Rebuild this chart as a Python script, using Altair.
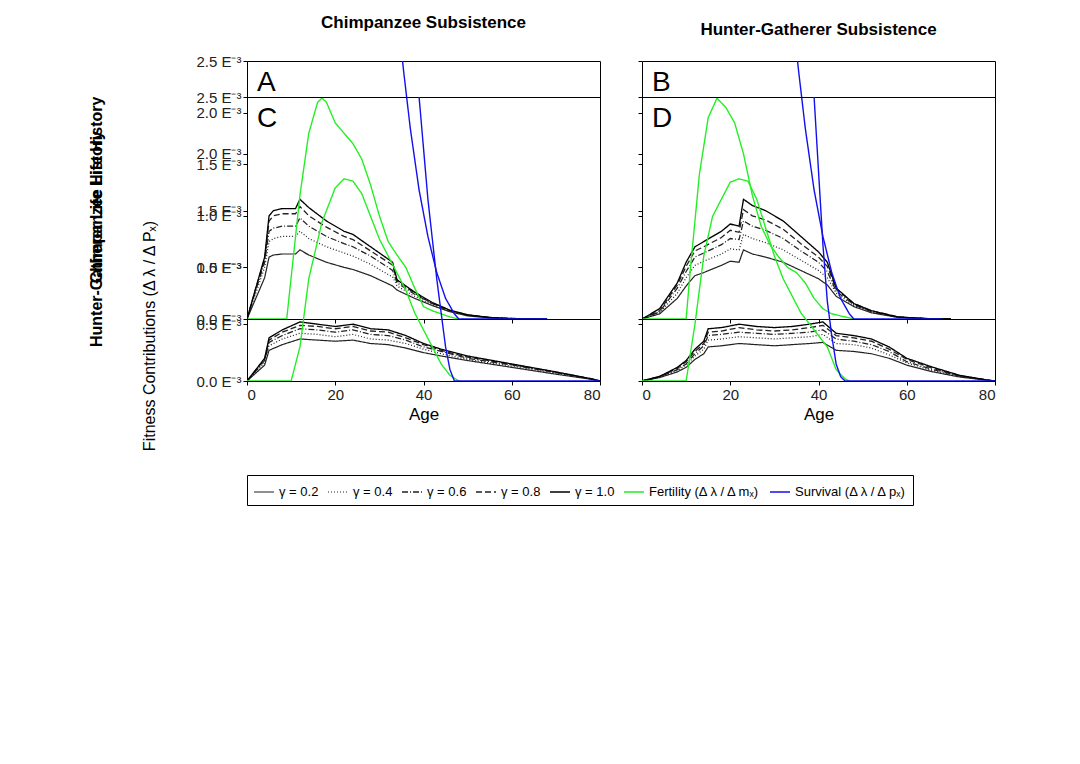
import altair as alt
import pandas as pd

series_names = ["γ = 0.2", "γ = 0.4", "γ = 0.6", "γ = 0.8", "γ = 1.0",
                "Fertility (Δ λ / Δ mₓ)", "Survival (Δ λ / Δ pₓ)"]
series_colors = ["#222222", "#222222", "#222222", "#222222", "#000000", "#22ee22", "#1111ee"]
series_dash = [[1, 0], [1, 2], [6, 2, 1, 2], [6, 3], [1, 0], [1, 0], [1, 0]]
series_width = [1.2, 1.4, 1.4, 1.4, 3, 3, 3]

# Panel A: chimpanzee life history, chimpanzee subsistence
a_age = [0, 2, 4, 5, 6, 8, 10, 11, 12, 14, 18, 22, 24, 28, 32, 33, 34, 38, 42, 46, 50, 55, 60, 68]
a_g02 = [0, 0.2, 0.4, 0.6, 0.62, 0.63, 0.63, 0.63, 0.67, 0.62, 0.55, 0.5, 0.48, 0.42, 0.34, 0.32, 0.28, 0.2, 0.13, 0.07, 0.03, 0.01, 0.003, 0]
a_g04 = [0, 0.25, 0.5, 0.75, 0.78, 0.8, 0.8, 0.8, 0.85, 0.78, 0.7, 0.64, 0.61, 0.53, 0.43, 0.41, 0.32, 0.22, 0.14, 0.075, 0.035, 0.012, 0.004, 0]
a_g06 = [0, 0.28, 0.55, 0.85, 0.88, 0.9, 0.9, 0.9, 0.98, 0.9, 0.8, 0.73, 0.7, 0.61, 0.5, 0.47, 0.35, 0.24, 0.15, 0.08, 0.038, 0.013, 0.004, 0]
a_g08 = [0, 0.3, 0.58, 0.95, 1.0, 1.02, 1.02, 1.02, 1.09, 1.0, 0.89, 0.8, 0.77, 0.66, 0.55, 0.52, 0.37, 0.25, 0.15, 0.08, 0.04, 0.014, 0.005, 0]
a_g10 = [0, 0.3, 0.6, 1.0, 1.05, 1.07, 1.07, 1.07, 1.16, 1.08, 0.95, 0.85, 0.82, 0.7, 0.58, 0.55, 0.38, 0.26, 0.16, 0.085, 0.04, 0.015, 0.005, 0]
a_fert_age = [0, 9, 10, 12, 14, 16, 17, 18, 20, 22, 24, 26, 28, 30, 32, 34, 36, 38, 40, 42, 44, 46, 48]
a_fert = [0, 0, 0.4, 1.2, 1.8, 2.1, 2.14, 2.1, 1.9, 1.8, 1.7, 1.55, 1.3, 1.0, 0.75, 0.62, 0.5, 0.3, 0.12, 0.08, 0.05, 0.02, 0]
a_surv_age = [34, 35.5, 37, 39, 41, 43, 45, 47, 48, 68]
a_surv = [3.0, 2.4, 1.85, 1.25, 0.8, 0.45, 0.2, 0.05, 0, 0]

# Panel B: chimpanzee life history, hunter-gatherer subsistence
b_age = [0, 4, 8, 10, 12, 14, 18, 20, 22, 23, 25, 28, 32, 36, 40, 42, 44, 48, 52, 58, 64, 70]
b_g02 = [0, 0.05, 0.2, 0.32, 0.42, 0.45, 0.52, 0.56, 0.55, 0.67, 0.63, 0.6, 0.55, 0.47, 0.39, 0.33, 0.22, 0.12, 0.06, 0.015, 0.004, 0]
b_g04 = [0, 0.06, 0.25, 0.4, 0.52, 0.56, 0.63, 0.68, 0.67, 0.82, 0.78, 0.74, 0.67, 0.57, 0.47, 0.4, 0.25, 0.13, 0.07, 0.017, 0.004, 0]
b_g06 = [0, 0.07, 0.3, 0.46, 0.6, 0.64, 0.72, 0.78, 0.77, 0.95, 0.9, 0.86, 0.78, 0.66, 0.55, 0.46, 0.27, 0.14, 0.07, 0.018, 0.005, 0]
b_g08 = [0, 0.08, 0.33, 0.51, 0.66, 0.7, 0.79, 0.86, 0.84, 1.06, 1.0, 0.96, 0.87, 0.73, 0.6, 0.51, 0.29, 0.15, 0.08, 0.02, 0.005, 0]
b_g10 = [0, 0.1, 0.35, 0.55, 0.7, 0.75, 0.85, 0.92, 0.9, 1.16, 1.1, 1.05, 0.95, 0.8, 0.65, 0.55, 0.3, 0.15, 0.08, 0.02, 0.005, 0]
b_fert_age = [0, 10, 11, 13, 15, 17, 19, 21, 23, 25, 27, 29, 31, 33, 35, 37, 39, 41, 43, 46, 48]
b_fert = [0, 0, 0.5, 1.4, 1.95, 2.14, 2.05, 1.9, 1.6, 1.2, 0.9, 0.72, 0.6, 0.5, 0.45, 0.35, 0.2, 0.1, 0.05, 0.02, 0]
b_surv_age = [34, 35.5, 37, 39, 41, 43, 45, 47, 48, 68]
b_surv = [3.0, 2.4, 1.85, 1.25, 0.8, 0.45, 0.2, 0.05, 0, 0]

# Panel C: hunter-gatherer life history, chimpanzee subsistence
c_age = [0, 2, 4, 5, 8, 12, 16, 20, 24, 28, 32, 36, 40, 44, 50, 60, 70, 78, 80]
c_g02 = [0, 0.07, 0.14, 0.27, 0.32, 0.37, 0.36, 0.35, 0.36, 0.33, 0.32, 0.29, 0.25, 0.22, 0.18, 0.12, 0.06, 0.015, 0]
c_g04 = [0, 0.08, 0.16, 0.31, 0.37, 0.42, 0.41, 0.39, 0.41, 0.37, 0.36, 0.33, 0.28, 0.24, 0.19, 0.13, 0.07, 0.017, 0]
c_g06 = [0, 0.09, 0.18, 0.34, 0.4, 0.46, 0.45, 0.43, 0.45, 0.41, 0.4, 0.36, 0.3, 0.26, 0.2, 0.14, 0.075, 0.018, 0]
c_g08 = [0, 0.095, 0.19, 0.36, 0.43, 0.49, 0.48, 0.46, 0.48, 0.44, 0.43, 0.38, 0.32, 0.27, 0.21, 0.145, 0.078, 0.019, 0]
c_g10 = [0, 0.1, 0.2, 0.38, 0.45, 0.52, 0.5, 0.48, 0.5, 0.46, 0.45, 0.4, 0.33, 0.28, 0.22, 0.15, 0.08, 0.02, 0]
c_fert_age = [0, 10, 12, 14, 17, 20, 22, 24, 26, 28, 30, 32, 34, 36, 38, 40, 42, 44, 46, 48]
c_fert = [0, 0, 0.3, 0.9, 1.4, 1.7, 1.78, 1.76, 1.65, 1.45, 1.25, 1.1, 0.95, 0.8, 0.6, 0.45, 0.3, 0.15, 0.05, 0]
c_surv_age = [38, 39, 41, 43, 44, 45, 46, 47, 80]
c_surv = [3.2, 2.5, 1.6, 0.9, 0.6, 0.3, 0.1, 0, 0]

# Panel D: hunter-gatherer life history, hunter-gatherer subsistence
d_age = [0, 4, 8, 10, 12, 14, 15, 18, 22, 26, 30, 34, 38, 41, 44, 48, 52, 56, 60, 66, 72, 78, 80]
d_g02 = [0, 0.03, 0.08, 0.12, 0.19, 0.24, 0.3, 0.31, 0.33, 0.32, 0.31, 0.32, 0.33, 0.34, 0.27, 0.26, 0.24, 0.2, 0.14, 0.08, 0.035, 0.008, 0]
d_g04 = [0, 0.035, 0.09, 0.14, 0.22, 0.28, 0.36, 0.37, 0.39, 0.38, 0.37, 0.38, 0.39, 0.41, 0.33, 0.32, 0.29, 0.23, 0.16, 0.09, 0.04, 0.009, 0]
d_g06 = [0, 0.037, 0.1, 0.15, 0.24, 0.31, 0.4, 0.41, 0.43, 0.42, 0.41, 0.42, 0.43, 0.45, 0.37, 0.35, 0.32, 0.26, 0.17, 0.1, 0.043, 0.009, 0]
d_g08 = [0, 0.04, 0.11, 0.17, 0.26, 0.33, 0.43, 0.44, 0.47, 0.45, 0.44, 0.45, 0.47, 0.49, 0.4, 0.38, 0.35, 0.28, 0.19, 0.11, 0.047, 0.01, 0]
d_g10 = [0, 0.04, 0.12, 0.18, 0.28, 0.35, 0.46, 0.47, 0.5, 0.48, 0.47, 0.48, 0.5, 0.52, 0.42, 0.4, 0.37, 0.3, 0.2, 0.12, 0.05, 0.01, 0]
d_fert_age = [0, 10, 12, 14, 16, 20, 22, 24, 26, 28, 30, 32, 34, 36, 38, 40, 42, 44, 46, 47]
d_fert = [0, 0, 0.5, 1.1, 1.45, 1.75, 1.78, 1.76, 1.6, 1.35, 1.1, 0.9, 0.75, 0.6, 0.5, 0.4, 0.3, 0.1, 0.02, 0]
d_surv_age = [38, 39, 41, 42, 43, 44, 45, 46, 80]
d_surv = [3.5, 2.5, 1.2, 0.7, 0.4, 0.15, 0.04, 0, 0]

panels = {
    "A": (a_age, [a_g02, a_g04, a_g06, a_g08, a_g10], a_fert_age, a_fert, a_surv_age, a_surv),
    "B": (b_age, [b_g02, b_g04, b_g06, b_g08, b_g10], b_fert_age, b_fert, b_surv_age, b_surv),
    "C": (c_age, [c_g02, c_g04, c_g06, c_g08, c_g10], c_fert_age, c_fert, c_surv_age, c_surv),
    "D": (d_age, [d_g02, d_g04, d_g06, d_g08, d_g10], d_fert_age, d_fert, d_surv_age, d_surv),
}

rows = []
for key, (age, gammas, f_age, fert, s_age, surv) in panels.items():
    for name, vals in zip(series_names[:5], gammas):
        rows += [dict(panel=key, series=name, age=x, value=v) for x, v in zip(age, vals)]
    rows += [dict(panel=key, series=series_names[5], age=x, value=v) for x, v in zip(f_age, fert)]
    rows += [dict(panel=key, series=series_names[6], age=x, value=v) for x, v in zip(s_age, surv)]
df = pd.DataFrame(rows)

FONT = "Liberation Sans"
label_expr = "format(datum.value, '.1f') + ' E⁻³'"


def label(text, **kw):
    # single-row chart so the text is drawn once
    return alt.Chart(pd.DataFrame({"t": [text]})).mark_text(font=FONT, **kw)


def panel(key, height, bottom, left, title=None):
    base = alt.Chart(df[df.panel == key])
    x_axis = alt.Axis(values=[0, 20, 40, 60, 80], labels=bottom, ticks=True, tickSize=4,
                      title="Age" if bottom else None, grid=False, domain=False)
    y_axis = alt.Axis(values=[0, 0.5, 1.0, 1.5, 2.0, 2.5], labels=left, labelExpr=label_expr,
                      tickSize=4, title=None, grid=False, domain=False)
    lines = base.mark_line(clip=True).encode(
        x=alt.X("age:Q", scale=alt.Scale(domain=[0, 80], nice=False), axis=x_axis),
        y=alt.Y("value:Q", scale=alt.Scale(domain=[0, 2.5], nice=False), axis=y_axis),
        color=alt.Color("series:N", sort=series_names,
                        scale=alt.Scale(domain=series_names, range=series_colors),
                        legend=alt.Legend(title=None, orient="bottom", direction="horizontal",
                                          columns=7, symbolType="stroke", symbolSize=400,
                                          symbolStrokeWidth=2, labelFontSize=13,
                                          labelFont=FONT, strokeColor="black",
                                          padding=6, offset=22, columnPadding=6)),
        strokeDash=alt.StrokeDash("series:N", sort=series_names,
                                  scale=alt.Scale(domain=series_names, range=series_dash)),
        strokeWidth=alt.StrokeWidth("series:N", sort=series_names,
                                    scale=alt.Scale(domain=series_names, range=series_width)),
        order=alt.Order("age:Q"),
    )
    letter = label(key, fontSize=28, align="left", baseline="top").encode(
        x=alt.value(10), y=alt.value(8), text="t:N")
    layers = [lines, letter]
    if left:
        row_title = "Chimpanzee Life History" if key == "A" else "Hunter-Gatherer Life History"
        layers.append(label(row_title, fontSize=16, fontWeight="bold", angle=270).encode(
            x=alt.value(-150), y=alt.value(height / 2), text="t:N"))
    if key == "A":
        layers.append(label("Fitness Contributions (Δ λ / Δ Pₓ)", fontSize=16, angle=270).encode(
            x=alt.value(-97), y=alt.value(height + 17), text="t:N"))
    props = dict(width=353, height=height)
    if title:
        props["title"] = alt.TitleParams(title, fontSize=17, font=FONT, fontWeight="bold", offset=22)
    return alt.layer(*layers).properties(**props)


top = alt.hconcat(panel("A", 258, False, True, "Chimpanzee Subsistence"),
                  panel("B", 258, False, False, "Hunter-Gatherer Subsistence"),
                  spacing=42, bounds="flush")
bottom = alt.hconcat(panel("C", 284, True, True), panel("D", 284, True, False),
                     spacing=42, bounds="flush")

chart = alt.vconcat(top, bottom, spacing=36, bounds="flush").resolve_scale(
    color="shared", strokeDash="shared", strokeWidth="shared"
).properties(
    padding={"left": 80, "top": 5, "right": 5, "bottom": 5}
).configure_view(stroke="black", strokeWidth=1).configure_axis(
    labelFont=FONT, titleFont=FONT, labelFontSize=15, titleFontSize=17,
    titleFontWeight="normal", tickColor="black", labelColor="#222222"
)

chart.save("out.html", embed_options={"renderer": "svg", "actions": False})
